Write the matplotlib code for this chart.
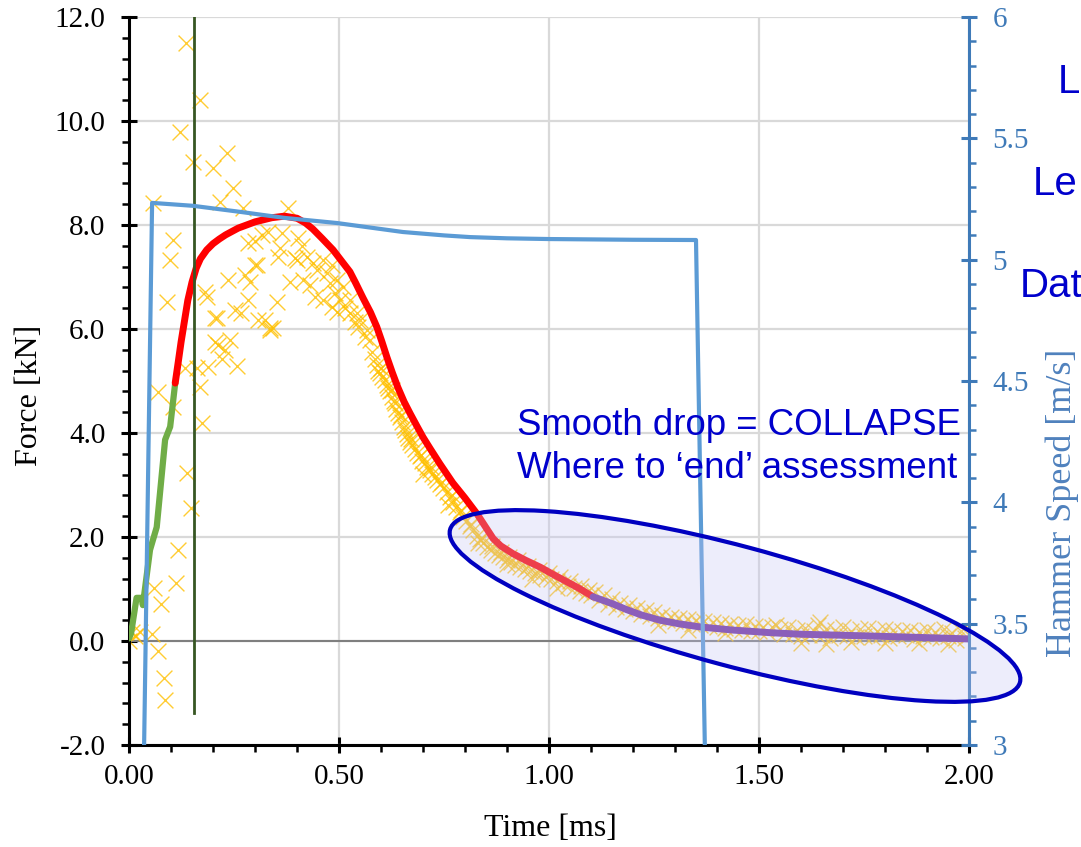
import numpy as np
import matplotlib.pyplot as plt
from matplotlib.patches import Ellipse
from matplotlib.transforms import IdentityTransform
from matplotlib.ticker import MultipleLocator, FormatStrFormatter

# raw force samples (x markers): time [ms], force [kN]
raw_t = [0.000, 0.014, 0.006, 0.026, 0.054, 0.069, 0.083, 0.086, 0.060, 0.075,
         0.111, 0.117, 0.148, 0.138, 0.174, 0.169, 0.105, 0.069, 0.133, 0.162,
         0.188, 0.257, 0.221, 0.229, 0.212, 0.240, 0.205, 0.210, 0.336, 0.090,
         0.098, 0.105, 0.057, 0.136, 0.169, 0.121, 0.152, 0.200, 0.233, 0.248,
         0.217, 0.181, 0.186, 0.205, 0.252, 0.267, 0.236, 0.276, 0.288, 0.300,
         0.283, 0.307, 0.324, 0.336, 0.352, 0.360, 0.317, 0.331, 0.283, 0.271,
         0.379, 0.402, 0.355, 0.305, 0.400, 0.424, 0.438, 0.462, 0.448, 0.471,
         0.383, 0.414, 0.431, 0.479, 0.490, 0.502, 0.510, 0.526, 0.543, 0.550,
         0.567, 0.574, 0.364, 0.395, 0.483, 0.495, 0.443, 0.462, 0.483, 0.495,
         0.514, 0.526, 0.343, 0.538, 0.545, 0.562, 0.412, 0.300,
         0.578, 0.585, 0.590, 0.594, 0.598, 0.603, 0.610, 0.614, 0.617, 0.621,
         0.626, 0.630, 0.633, 0.636, 0.640, 0.645, 0.650, 0.654, 0.657, 0.661,
         0.664, 0.669, 0.674, 0.680, 0.686, 0.692, 0.698, 0.704, 0.710, 0.716,
         0.722, 0.728, 0.733, 0.740, 0.748, 0.756, 0.764, 0.771, 0.779, 0.787,
         0.795, 0.803, 0.811, 0.819, 0.828, 0.836, 0.844, 0.852, 0.862, 0.871,
         0.880, 0.890, 0.900, 0.910, 0.920, 0.931, 0.943, 0.955, 0.967, 0.979,
         0.992, 1.005, 1.019, 1.033, 1.046, 1.060, 1.074, 1.088, 1.100,
         0.600, 0.625, 0.648, 0.672, 0.695, 0.720, 0.745, 0.770, 0.790, 0.815,
         0.840, 0.865, 0.885, 0.905, 0.925, 0.950, 0.975, 1.000, 1.025, 1.050,
         1.075, 1.095, 0.700, 0.760, 0.830, 0.900, 0.960, 1.020,
         1.11, 1.12, 1.13, 1.14, 1.15, 1.16, 1.17, 1.18, 1.19, 1.20,
         1.21, 1.22, 1.23, 1.24, 1.25, 1.26, 1.27, 1.28, 1.29, 1.30,
         1.31, 1.32, 1.33, 1.34, 1.35, 1.36, 1.37, 1.38, 1.39, 1.40,
         1.41, 1.42, 1.43, 1.44, 1.45, 1.46, 1.47, 1.48, 1.49, 1.50,
         1.51, 1.52, 1.53, 1.54, 1.55, 1.56, 1.57, 1.58, 1.59, 1.60,
         1.61, 1.62, 1.63, 1.64, 1.645, 1.65, 1.66, 1.67, 1.68, 1.69,
         1.70, 1.71, 1.72, 1.73, 1.74, 1.75, 1.76, 1.77, 1.78, 1.79,
         1.80, 1.81, 1.82, 1.83, 1.84, 1.85, 1.86, 1.87, 1.88, 1.89,
         1.90, 1.91, 1.92, 1.93, 1.94, 1.95, 1.96, 1.97, 1.98, 1.99, 2.00,
         1.60, 1.66, 1.72, 1.80, 1.88, 1.95, 1.26, 1.33, 1.42]
raw_f = [0.00, 0.10, 0.17, 0.17, 0.13, -0.19, -0.71, -1.13, 1.02, 0.71,
         1.12, 1.75, 2.56, 3.23, 4.19, 4.88, 4.50, 4.79, 5.25, 5.25,
         5.27, 5.29, 5.42, 5.60, 5.69, 5.79, 5.75, 6.21, 5.98, 6.52,
         7.33, 7.71, 8.42, 11.50, 10.40, 9.79, 9.21, 9.10, 9.38, 8.71,
         8.44, 6.71, 6.62, 6.21, 6.37, 6.31, 6.94, 7.04, 6.90, 7.23,
         6.56, 6.17, 6.17, 6.02, 6.52, 7.56, 7.81, 7.87, 7.65, 8.33,
         8.33, 7.75, 7.38, 7.23, 7.33, 7.38, 7.27, 7.33, 7.13, 7.08,
         6.90, 6.94, 6.85, 6.88, 6.69, 6.56, 6.81, 6.56, 6.31, 6.17,
         5.98, 5.79, 7.85, 7.37, 7.23, 6.94, 6.62, 6.56, 6.42, 6.33,
         6.40, 6.31, 6.02, 6.13, 6.04, 5.85, 7.60, 7.70,
         5.55, 5.42, 5.31, 5.20, 5.15, 5.08, 5.02, 4.92, 4.87, 4.80,
         4.69, 4.62, 4.58, 4.47, 4.38, 4.30, 4.21, 4.12, 4.06, 3.98,
         3.90, 3.83, 3.77, 3.70, 3.62, 3.55, 3.47, 3.42, 3.35, 3.28,
         3.22, 3.16, 3.10, 3.02, 2.95, 2.86, 2.77, 2.68, 2.58, 2.48,
         2.38, 2.30, 2.21, 2.13, 2.02, 1.96, 1.88, 1.81, 1.75, 1.70,
         1.66, 1.62, 1.56, 1.51, 1.46, 1.42, 1.38, 1.34, 1.30, 1.27,
         1.23, 1.19, 1.15, 1.12, 1.06, 1.02, 0.97, 0.92, 0.88,
         5.25, 4.82, 4.35, 3.88, 3.58, 3.35, 3.05, 2.80, 2.52, 2.25,
         1.98, 1.82, 1.72, 1.62, 1.55, 1.45, 1.37, 1.30, 1.24, 1.15,
         1.06, 0.98, 3.22, 2.62, 1.88, 1.48, 1.20, 1.02,
         0.95, 0.78, 0.88, 0.72, 0.80, 0.66, 0.74, 0.62, 0.70, 0.58,
         0.64, 0.52, 0.60, 0.48, 0.55, 0.44, 0.50, 0.40, 0.47, 0.38,
         0.44, 0.35, 0.42, 0.33, 0.40, 0.30, 0.38, 0.28, 0.36, 0.27,
         0.34, 0.25, 0.33, 0.23, 0.30, 0.22, 0.32, 0.20, 0.29, 0.19,
         0.27, 0.17, 0.26, 0.30, 0.24, 0.14, 0.27, 0.13, 0.22, 0.10,
         0.25, 0.12, 0.20, 0.30, 0.37, 0.11, 0.24, 0.05, 0.21, 0.12,
         0.26, 0.09, 0.19, 0.07, 0.23, 0.10, 0.25, 0.08, 0.20, 0.11,
         0.24, 0.06, 0.21, 0.09, 0.19, 0.12, 0.22, 0.03, 0.18, 0.10,
         0.21, 0.07, 0.17, 0.05, 0.24, 0.09, 0.16, 0.02, 0.19, 0.06, 0.12,
         -0.03, -0.05, -0.02, -0.04, -0.03, -0.05, 0.30, 0.22, 0.16]

# filtered force, loading part (green)
load_t = [0.000, 0.005, 0.018, 0.030, 0.033, 0.050, 0.066, 0.086, 0.098, 0.110]
load_f = [0.05, 0.15, 0.83, 0.83, 0.69, 1.75, 2.19, 3.87, 4.12, 4.96]

# filtered force, peak and drop (red)
peak_t = [0.110, 0.117, 0.124, 0.132, 0.140, 0.150, 0.160, 0.170, 0.185, 0.200,
          0.215, 0.230, 0.260, 0.300, 0.340, 0.370, 0.400, 0.420, 0.438, 0.460,
          0.486, 0.505, 0.526, 0.540, 0.557, 0.575, 0.590, 0.602, 0.614, 0.627,
          0.640, 0.655, 0.669, 0.685, 0.700, 0.717, 0.740, 0.771, 0.800, 0.829,
          0.850, 0.867, 0.885, 0.914, 0.945, 0.979, 1.010, 1.040, 1.070, 1.105]
peak_f = [4.96, 5.35, 5.75, 6.15, 6.55, 6.90, 7.17, 7.35, 7.52, 7.64,
          7.73, 7.81, 7.94, 8.06, 8.14, 8.17, 8.13, 8.04, 7.92, 7.74,
          7.52, 7.32, 7.10, 6.88, 6.60, 6.32, 6.04, 5.76, 5.46, 5.16,
          4.88, 4.60, 4.38, 4.14, 3.92, 3.70, 3.41, 3.04, 2.75, 2.44,
          2.18, 1.97, 1.83, 1.68, 1.55, 1.42, 1.28, 1.15, 1.02, 0.85]

# filtered force, tail (purple)
tail_t = [1.105, 1.150, 1.186, 1.220, 1.264, 1.310, 1.360, 1.438, 1.526, 1.600,
          1.700, 1.836, 2.000]
tail_f = [0.85, 0.72, 0.60, 0.50, 0.40, 0.33, 0.27, 0.21, 0.16, 0.13,
          0.11, 0.08, 0.04]

# hammer speed [m/s]
speed_t = [0.036, 0.055, 0.152, 0.269, 0.371, 0.495, 0.652, 0.750, 0.812, 0.900,
           1.000, 1.200, 1.350, 1.371]
speed_v = [3.00, 5.234, 5.222, 5.196, 5.172, 5.151, 5.114, 5.100, 5.093, 5.088,
           5.085, 5.082, 5.081, 3.00]

# vertical marker
mark_t = 0.155
mark_f = [-1.38, 12.0]

W, H = 1081, 847
plt.rcParams['font.family'] = ['Liberation Serif', 'DejaVu Serif']
fig = plt.figure(figsize=(W / 100, H / 100), dpi=100)
ax = fig.add_axes([129 / W, 1 - 745 / H, 840 / W, 728 / H])
ax2 = ax.twinx()

ax.scatter(raw_t, raw_f, marker='x', s=130, color='#ffc000', linewidths=1.0, alpha=0.8, zorder=2)
ax.plot(load_t, load_f, color='#70ad47', lw=4.5, zorder=3, solid_capstyle='round')
ax.plot(peak_t, peak_f, color='#ff0000', lw=5, zorder=3, solid_capstyle='round')
ax.plot(tail_t, tail_f, color='#7030a0', lw=5, zorder=3, solid_capstyle='round')
ax.plot([mark_t, mark_t], mark_f, color='#375623', lw=2, zorder=5)
ax.axhline(0, color='#7f7f7f', lw=1.5, zorder=1)

ax.set_xlim(0, 2.0)
ax.set_ylim(-2.0, 12.0)
ax.xaxis.set_major_locator(MultipleLocator(0.5))
ax.xaxis.set_minor_locator(MultipleLocator(0.1))
ax.yaxis.set_major_locator(MultipleLocator(2.0))
ax.yaxis.set_minor_locator(MultipleLocator(0.4))
ax.xaxis.set_major_formatter(FormatStrFormatter('%.2f'))
ax.yaxis.set_major_formatter(FormatStrFormatter('%.1f'))
ax.grid(True, color='#d9d9d9', lw=1.6, zorder=0)
ax.set_axisbelow(True)
ax.tick_params(which='major', direction='inout', length=12, width=2.2, labelsize=21)
ax.tick_params(axis='y', which='major', pad=11)
ax.tick_params(axis='x', which='major', pad=8)
ax.tick_params(which='minor', direction='out', length=5, width=1.8)
ax.tick_params(axis='y', which='both', right=False)
for s in ['top', 'right']:
    ax.spines[s].set_visible(False)
ax.spines['left'].set_linewidth(2.2)
ax.spines['bottom'].set_linewidth(2.2)

# hammer speed on right axis
sc = '#3f7ab8'
ax2.plot(speed_t, speed_v, color='#5b9bd5', lw=3, zorder=4)
ax2.set_ylim(3, 6)
ax2.yaxis.set_major_locator(MultipleLocator(0.5))
ax2.yaxis.set_minor_locator(MultipleLocator(0.1))
ax2.yaxis.set_major_formatter(FormatStrFormatter('%g'))
ax2.tick_params(which='major', direction='inout', length=12, width=2.2, labelsize=21,
                colors=sc, pad=11)
ax2.tick_params(which='minor', direction='out', length=5, width=1.8, colors=sc)
for s in ['top', 'left', 'bottom']:
    ax2.spines[s].set_visible(False)
ax2.spines['right'].set_color(sc)
ax2.spines['right'].set_linewidth(2.2)

# axis titles
fig.text(550 / W, 1 - 828 / H, 'Time [ms]', fontsize=23, ha='center', va='center')
fig.text(30 / W, 1 - 395 / H, 'Force [kN]', fontsize=23, ha='center', va='center', rotation=90)
fig.text(1062 / W, 1 - 503 / H, 'Hammer Speed [m/s]', fontsize=26, color='#4f81bd',
         ha='center', va='center', rotation=90)

# overlay annotation
ell = Ellipse((735, H - 606), 590, 120, angle=-15, transform=IdentityTransform(),
              facecolor='#c8c8f5', alpha=0.31, edgecolor='none', zorder=10)
fig.add_artist(ell)
ell_edge = Ellipse((735, H - 606), 590, 120, angle=-15, transform=IdentityTransform(),
                   facecolor='none', edgecolor='#0000c0', lw=3, zorder=11)
fig.add_artist(ell_edge)

blue = '#0000cc'
fig.text(517 / W, 1 - 435 / H, 'Smooth drop = COLLAPSE', fontsize=26.4, color=blue,
         family='Liberation Sans', va='baseline')
fig.text(517 / W, 1 - 478 / H, 'Where to \u2018end\u2019 assessment', fontsize=26.4, color=blue,
         family='Liberation Sans', va='baseline')
fig.text(1058 / W, 1 - 93 / H, 'L', fontsize=29, color=blue, family='Liberation Sans', va='baseline')
fig.text(1033 / W, 1 - 195 / H, 'Le', fontsize=29, color=blue, family='Liberation Sans', va='baseline')
fig.text(1020 / W, 1 - 297 / H, 'Dat', fontsize=29, color=blue, family='Liberation Sans', va='baseline')

fig.savefig('out.png', dpi=100)
